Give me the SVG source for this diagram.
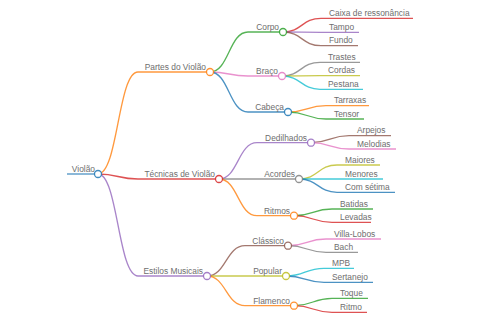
<svg xmlns="http://www.w3.org/2000/svg" width="480" height="320" viewBox="0 0 480 320">
<style>
path{fill:none;stroke-width:1.3;stroke-opacity:0.8}
circle{fill:#fff;stroke-width:1.3;stroke-opacity:0.85}
text{font-family:"Liberation Sans",Arial,sans-serif;font-size:8.4px;fill:#6e6e6e}
.e{text-anchor:end}
.bl{stroke:#1f77b4}.or{stroke:#ff7f0e}.gr{stroke:#2ca02c}.rd{stroke:#d62728}.pu{stroke:#9467bd}
.br{stroke:#8c564b}.pk{stroke:#e377c2}.gy{stroke:#7f7f7f}.ol{stroke:#bcbd22}.cy{stroke:#17becf}
</style>
<rect width="480" height="320" fill="#fff"/>
<g id="connectors">
<path class="bl" d="M67,174H98"/>
<path class="or" d="M98,174C118,174 118,72 138,72H210"/>
<path class="rd" d="M98,174C118,174 118,179 138,179H219"/>
<path class="pu" d="M98,174C118,174 118,276 138,276H207"/>
<path class="gr" d="M210,72C229,72 229,32 248,32H283"/>
<path class="pk" d="M210,72C229,72 229,76 248,76H282"/>
<path class="bl" d="M210,72C229,72 229,112 248,112H288"/>
<path class="pu" d="M219,179C238,179 238,142.7 257,142.7H311"/>
<path class="gy" d="M219,179H299"/>
<path class="or" d="M219,179C238,179 238,215.7 257,215.7H294"/>
<path class="br" d="M207,276C226,276 226,245.7 245,245.7H288"/>
<path class="ol" d="M207,276H286"/>
<path class="or" d="M207,276C226,276 226,305.7 245,305.7H294"/>
<path class="rd" d="M283,32C302,32 302,18.3 321,18.3H413"/>
<path class="pu" d="M283,32C302,32 302,32.3 321,32.3H359"/>
<path class="br" d="M283,32C302,32 302,45.7 321,45.7H358"/>
<path class="gy" d="M282,76C301,76 301,62.3 320,62.3H360"/>
<path class="ol" d="M282,76C301,76 301,75.7 320,75.7H360"/>
<path class="cy" d="M282,76C301,76 301,89.3 320,89.3H363"/>
<path class="or" d="M288,112C307,112 307,105.7 326,105.7H369"/>
<path class="gr" d="M288,112C307,112 307,119 326,119H364"/>
<path class="br" d="M311,142.7C330,142.7 330,135.7 349,135.7H391"/>
<path class="pk" d="M311,142.7C330,142.7 330,149 349,149H396"/>
<path class="ol" d="M299,179C318,179 318,165 337,165H380"/>
<path class="cy" d="M299,179H383"/>
<path class="bl" d="M299,179C318,179 318,192.3 337,192.3H395"/>
<path class="gr" d="M294,215.7C313,215.7 313,209 332,209H373"/>
<path class="rd" d="M294,215.7C313,215.7 313,222.3 332,222.3H371"/>
<path class="pk" d="M288,245.7C307,245.7 307,239 326,239H381"/>
<path class="gy" d="M288,245.7C307,245.7 307,252.3 326,252.3H358"/>
<path class="cy" d="M286,276C305,276 305,268.3 324,268.3H354"/>
<path class="bl" d="M286,276C305,276 305,282.3 324,282.3H373"/>
<path class="gr" d="M294,305.7C313,305.7 313,298.3 332,298.3H368"/>
<path class="rd" d="M294,305.7C313,305.7 313,312.3 332,312.3H367"/>
</g>
<g id="n-violao"><circle class="bl" cx="98" cy="174" r="3.5"/><text class="e" x="95" y="171.5">Violão</text></g>
<g id="n-partes"><circle class="or" cx="210" cy="72" r="3.5"/><text class="e" x="206" y="70">Partes do Violão</text></g>
<g id="n-tecnicas"><circle class="rd" cx="219" cy="179" r="3.5"/><text class="e" x="215" y="177">Técnicas de Violão</text></g>
<g id="n-estilos"><circle class="pu" cx="207" cy="276" r="3.5"/><text class="e" x="203" y="274">Estilos Musicais</text></g>
<g id="n-corpo"><circle class="gr" cx="283" cy="32" r="3.5"/><text class="e" x="279" y="30">Corpo</text></g>
<g id="n-braco"><circle class="pk" cx="282" cy="76" r="3.5"/><text class="e" x="278" y="74">Braço</text></g>
<g id="n-cabeca"><circle class="bl" cx="288" cy="112" r="3.5"/><text class="e" x="284" y="110">Cabeça</text></g>
<g id="n-dedilhados"><circle class="pu" cx="311" cy="142.7" r="3.5"/><text class="e" x="307" y="140.5">Dedilhados</text></g>
<g id="n-acordes"><circle class="gy" cx="299" cy="179" r="3.5"/><text class="e" x="295" y="177">Acordes</text></g>
<g id="n-ritmos"><circle class="or" cx="294" cy="215.7" r="3.5"/><text class="e" x="290" y="213.5">Ritmos</text></g>
<g id="n-classico"><circle class="br" cx="288" cy="245.7" r="3.5"/><text class="e" x="284" y="243.5">Clássico</text></g>
<g id="n-popular"><circle class="ol" cx="286" cy="276" r="3.5"/><text class="e" x="282" y="274">Popular</text></g>
<g id="n-flamenco"><circle class="or" cx="294" cy="305.7" r="3.5"/><text class="e" x="290" y="303.5">Flamenco</text></g>
<g id="n-caixa"><text x="329" y="16">Caixa de ressonância</text></g>
<g id="n-tampo"><text x="329" y="30">Tampo</text></g>
<g id="n-fundo"><text x="329" y="43.3">Fundo</text></g>
<g id="n-trastes"><text x="328" y="60">Trastes</text></g>
<g id="n-cordas"><text x="328" y="73.3">Cordas</text></g>
<g id="n-pestana"><text x="328" y="87">Pestana</text></g>
<g id="n-tarraxas"><text x="334" y="103.3">Tarraxas</text></g>
<g id="n-tensor"><text x="334" y="116.6">Tensor</text></g>
<g id="n-arpejos"><text x="357" y="133.3">Arpejos</text></g>
<g id="n-melodias"><text x="357" y="146.6">Melodias</text></g>
<g id="n-maiores"><text x="345" y="162.6">Maiores</text></g>
<g id="n-menores"><text x="345" y="176.6">Menores</text></g>
<g id="n-comsetima"><text x="345" y="190">Com sétima</text></g>
<g id="n-batidas"><text x="340" y="206.6">Batidas</text></g>
<g id="n-levadas"><text x="340" y="220">Levadas</text></g>
<g id="n-villalobos"><text x="334" y="236.6">Villa-Lobos</text></g>
<g id="n-bach"><text x="334" y="250">Bach</text></g>
<g id="n-mpb"><text x="332" y="266">MPB</text></g>
<g id="n-sertanejo"><text x="332" y="280">Sertanejo</text></g>
<g id="n-toque"><text x="340" y="296">Toque</text></g>
<g id="n-ritmo"><text x="340" y="310">Ritmo</text></g>
</svg>
